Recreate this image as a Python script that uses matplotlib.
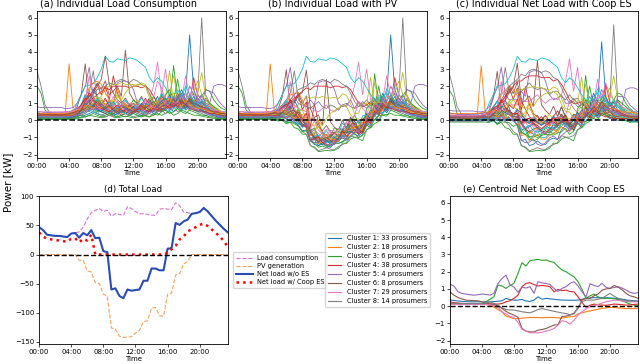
import matplotlib
matplotlib.use("Agg")
import matplotlib.pyplot as plt
import numpy as np

# half-hourly time axis, 00:00 .. 23:30
hours = np.arange(48) * 0.5
tick_hours = [0, 4, 8, 12, 16, 20]
tick_labels = ["00:00", "04:00", "08:00", "12:00", "16:00", "20:00"]

# (a) individual load of a subset of the prosumers [kW]
load_kw = [
    [0.3, 0.3, 0.25, 0.25, 0.2, 0.2, 0.2, 0.2, 0.2, 0.25, 0.3, 0.5, 0.8, 1.2, 0.9, 0.6,
     0.5, 0.4, 0.6, 0.4, 0.3, 0.5, 0.4, 0.3, 0.4, 0.6, 0.5, 0.8, 1.2, 0.7, 0.5, 0.6,
     0.8, 1.0, 1.4, 0.9, 1.1, 1.6, 5.0, 1.8, 1.2, 1.5, 1.0, 0.9, 0.7, 0.6, 0.5, 0.4],
    [0.35, 0.3, 0.3, 0.3, 0.3, 0.3, 0.3, 0.35, 3.3, 0.6, 0.35, 0.4, 0.5, 0.7, 1.0, 0.8,
     0.6, 0.5, 0.4, 0.5, 0.6, 0.4, 0.5, 0.7, 0.5, 0.4, 0.6, 0.9, 0.7, 0.5, 0.6, 0.8,
     1.2, 0.9, 0.7, 1.1, 1.5, 1.0, 0.8, 0.9, 1.3, 1.0, 0.8, 0.7, 0.6, 0.5, 0.5, 0.4],
    [2.0, 1.6, 0.6, 0.4, 0.35, 0.3, 0.3, 0.3, 0.3, 0.3, 0.35, 0.4, 0.6, 0.8, 0.7, 0.5,
     0.6, 0.8, 0.5, 0.4, 0.6, 0.5, 0.4, 0.5, 0.7, 0.5, 0.6, 0.9, 1.3, 0.8, 1.0, 1.5,
     1.2, 0.9, 3.2, 1.3, 1.6, 1.1, 0.9, 1.2, 1.0, 1.4, 1.8, 1.7, 1.2, 0.9, 0.7, 0.6],
    [0.2, 0.2, 0.15, 0.15, 0.15, 0.15, 0.15, 0.15, 0.15, 0.2, 0.3, 0.5, 0.9, 1.4, 1.8, 2.1,
     1.5, 2.0, 1.2, 2.6, 1.6, 1.1, 0.9, 0.8, 1.0, 0.7, 0.9, 1.3, 0.8, 0.6, 0.9, 1.4,
     1.1, 0.8, 1.0, 1.6, 1.2, 0.9, 1.1, 2.5, 1.5, 1.2, 0.9, 0.8, 0.6, 0.5, 0.4, 0.3],
    [0.8, 0.75, 0.75, 0.75, 0.75, 0.75, 0.75, 0.7, 0.7, 0.75, 1.0, 1.5, 2.0, 3.1, 1.4, 1.0,
     0.9, 0.8, 1.2, 0.9, 2.2, 2.3, 2.3, 2.2, 1.8, 1.0, 0.8, 0.9, 1.2, 0.7, 0.8, 1.1,
     0.9, 0.7, 1.3, 0.8, 0.9, 1.2, 2.0, 1.5, 1.1, 0.9, 1.3, 1.0, 2.0, 2.1, 2.1, 2.0],
    [0.3, 0.3, 0.25, 0.25, 0.25, 0.25, 0.3, 0.3, 0.3, 0.4, 0.8, 1.5, 3.3, 1.0, 1.6, 2.2,
     1.8, 2.3, 1.5, 1.7, 2.0, 1.4, 4.1, 1.6, 1.2, 1.0, 1.4, 0.9, 1.3, 0.8, 0.7, 1.0,
     0.9, 1.2, 0.8, 1.0, 1.3, 0.9, 0.8, 1.1, 0.9, 0.7, 0.8, 0.6, 0.5, 0.5, 0.4, 0.4],
    [0.45, 0.4, 0.4, 0.4, 0.4, 0.4, 0.4, 0.45, 0.5, 0.6, 0.7, 0.9, 0.8, 1.2, 0.9, 0.7,
     0.6, 0.5, 0.8, 0.6, 0.5, 0.7, 0.9, 0.6, 0.5, 0.7, 0.9, 0.8, 1.2, 2.0, 3.4, 1.5,
     3.0, 1.2, 0.9, 1.5, 1.2, 2.6, 1.4, 1.0, 1.2, 0.9, 0.8, 0.7, 0.6, 0.6, 0.5, 0.5],
    [2.9, 2.0, 0.9, 0.5, 0.4, 0.35, 0.35, 0.35, 0.35, 0.4, 0.6, 0.9, 1.2, 1.6, 2.9, 1.2,
     1.0, 0.8, 0.7, 0.9, 1.1, 0.8, 0.7, 0.9, 0.8, 0.6, 0.9, 1.0, 0.8, 0.7, 1.1, 0.9,
     1.2, 0.9, 1.0, 1.3, 0.9, 1.1, 1.5, 1.0, 1.4, 6.0, 1.5, 1.0, 0.8, 0.6, 0.5, 0.4],
    [0.3, 0.3, 0.3, 0.3, 0.3, 0.3, 0.3, 0.3, 0.3, 0.3, 0.4, 0.5, 0.7, 0.9, 1.0, 1.2,
     1.4, 1.8, 2.0, 2.1, 2.1, 2.2, 2.1, 2.1, 2.1, 2.0, 2.2, 2.1, 1.5, 0.9, 1.0, 1.6,
     1.3, 2.9, 1.0, 1.4, 1.2, 1.5, 1.3, 1.1, 1.6, 2.8, 1.4, 1.0, 0.8, 0.7, 0.5, 0.4],
    [0.4, 0.4, 0.35, 0.35, 0.35, 0.35, 0.35, 0.35, 0.4, 0.45, 1.0, 1.5, 2.0, 2.05, 2.15, 2.5,
     3.0, 3.75, 3.45, 3.4, 3.6, 3.55, 3.5, 3.65, 3.6, 3.5, 3.3, 3.1, 2.5, 2.2, 2.5, 2.3,
     1.9, 1.5, 1.2, 1.1, 1.4, 1.6, 1.2, 0.9, 0.8, 1.0, 0.9, 0.7, 0.6, 0.6, 0.5, 0.5],
    [0.25, 0.2, 0.2, 0.2, 0.2, 0.2, 0.2, 0.2, 0.25, 0.3, 0.5, 0.9, 1.5, 1.1, 1.8, 1.4,
     1.0, 0.7, 0.5, 0.6, 0.4, 0.5, 0.7, 0.5, 0.4, 0.6, 0.5, 0.4, 0.7, 0.9, 1.4, 0.8,
     1.1, 1.5, 0.9, 1.3, 1.8, 1.2, 1.0, 1.4, 0.9, 1.1, 0.8, 0.6, 0.5, 0.4, 0.3, 0.3],
    [0.2, 0.2, 0.2, 0.15, 0.15, 0.15, 0.15, 0.2, 0.2, 0.25, 0.4, 0.8, 1.3, 1.9, 2.2, 2.3,
     2.1, 1.6, 1.2, 0.9, 1.9, 1.1, 0.8, 0.6, 0.7, 0.5, 0.8, 0.6, 0.5, 0.7, 0.6, 0.9,
     0.7, 1.2, 0.9, 0.8, 1.1, 0.9, 1.3, 0.8, 0.7, 0.9, 0.6, 0.5, 0.4, 0.3, 0.3, 0.2],
    [0.15, 0.15, 0.15, 0.1, 0.1, 0.1, 0.1, 0.1, 0.15, 0.2, 0.3, 0.5, 0.7, 0.6, 0.9, 1.2,
     0.8, 0.6, 0.9, 1.1, 0.7, 0.5, 0.6, 0.8, 1.2, 0.9, 0.6, 0.8, 1.0, 1.4, 1.1, 0.9,
     1.5, 1.8, 1.2, 2.4, 1.0, 0.8, 1.4, 1.1, 0.9, 0.7, 1.2, 1.0, 0.8, 0.6, 0.4, 0.3],
    [0.3, 0.3, 0.3, 0.3, 0.3, 0.3, 0.3, 0.3, 0.3, 0.35, 0.5, 0.7, 0.9, 1.1, 1.3, 1.5,
     1.7, 1.9, 1.8, 2.0, 2.0, 2.0, 2.0, 1.9, 2.0, 2.0, 1.9, 2.0, 1.8, 1.4, 1.0, 0.8,
     0.9, 1.1, 0.8, 1.0, 0.7, 0.9, 1.2, 0.8, 0.7, 0.6, 0.8, 0.6, 0.5, 0.4, 0.35, 0.3],
    [0.5, 0.5, 0.45, 0.45, 0.45, 0.45, 0.45, 0.5, 0.5, 0.55, 0.7, 0.9, 1.2, 0.8, 1.0, 0.7,
     0.6, 0.8, 0.5, 0.7, 0.6, 0.9, 0.7, 0.5, 0.6, 0.8, 0.6, 0.5, 0.7, 0.9, 0.6, 0.8,
     1.0, 0.7, 1.3, 0.9, 1.1, 0.8, 1.2, 1.6, 1.3, 1.0, 1.8, 1.7, 1.6, 1.2, 0.9, 0.7],
    [0.35, 0.35, 0.3, 0.3, 0.3, 0.3, 0.3, 0.3, 0.35, 0.4, 0.6, 0.9, 1.2, 1.4, 1.6, 2.0,
     2.4, 3.75, 2.1, 1.6, 1.2, 1.0, 1.3, 0.9, 0.8, 1.0, 0.7, 0.9, 1.1, 0.8, 0.7, 1.0,
     0.8, 1.2, 1.0, 0.9, 1.3, 0.8, 1.1, 0.9, 0.7, 0.8, 0.6, 0.5, 0.5, 0.4, 0.4, 0.35],
    [0.3, 0.3, 0.3, 0.3, 0.25, 0.25, 0.25, 0.3, 0.3, 0.35, 0.5, 0.8, 1.1, 2.6, 1.3, 0.9,
     0.8, 1.2, 0.9, 1.4, 1.0, 0.8, 1.1, 0.9, 0.7, 1.0, 0.8, 1.2, 0.9, 1.3, 2.3, 1.9,
     1.2, 1.0, 1.4, 0.9, 1.1, 1.6, 1.3, 2.2, 1.5, 1.2, 1.0, 0.8, 0.7, 0.6, 0.5, 0.4],
    [0.25, 0.25, 0.2, 0.2, 0.2, 0.2, 0.2, 0.25, 0.25, 0.3, 0.4, 0.6, 0.9, 1.2, 1.5, 1.8,
     1.9, 2.0, 2.2, 2.1, 2.3, 2.4, 2.3, 2.2, 2.4, 2.3, 2.1, 2.0, 1.6, 1.1, 0.8, 0.9,
     0.7, 0.9, 1.2, 0.8, 1.0, 0.9, 0.7, 1.1, 0.8, 0.6, 0.7, 0.6, 0.5, 0.4, 0.3, 0.3],
    [0.2, 0.2, 0.2, 0.2, 0.15, 0.15, 0.15, 0.2, 0.2, 0.25, 0.35, 0.5, 0.7, 0.9, 0.8, 1.1,
     1.3, 0.9, 1.2, 1.0, 1.4, 1.2, 1.6, 1.9, 2.0, 2.1, 2.1, 2.0, 1.3, 1.0, 1.2, 0.9,
     1.1, 1.6, 2.6, 1.4, 1.2, 1.0, 1.3, 1.7, 2.3, 1.5, 1.2, 0.9, 0.7, 0.6, 0.5, 0.4],
    [0.1, 0.1, 0.1, 0.1, 0.1, 0.1, 0.1, 0.1, 0.1, 0.15, 0.3, 0.8, 1.5, 1.0, 0.7, 1.3,
     0.9, 0.6, 0.8, 1.1, 0.6, 0.9, 1.2, 0.8, 0.7, 0.9, 1.3, 1.0, 0.8, 1.1, 0.9, 1.6,
     1.2, 0.9, 1.4, 1.8, 1.3, 2.0, 1.5, 1.1, 0.9, 1.2, 0.8, 0.6, 0.5, 0.4, 0.3, 0.2],
    [0.1, 0.1, 0.1, 0.1, 0.1, 0.1, 0.1, 0.1, 0.1, 0.1, 0.15, 0.2, 0.3, 0.4, 0.5, 0.4,
     0.3, 0.4, 0.5, 0.3, 0.4, 0.6, 0.4, 0.3, 0.5, 0.4, 0.3, 0.5, 0.6, 0.4, 0.5, 0.7,
     0.6, 0.8, 0.5, 0.7, 0.9, 0.6, 0.8, 0.7, 0.5, 0.6, 0.4, 0.3, 0.3, 0.2, 0.15, 0.1],
    [0.3, 0.3, 0.3, 0.25, 0.25, 0.25, 0.25, 0.25, 0.3, 0.3, 0.35, 0.5, 0.7, 0.6, 0.8, 0.9,
     0.7, 0.5, 0.6, 0.8, 0.5, 0.7, 0.9, 0.6, 0.5, 0.7, 0.6, 0.4, 0.6, 0.8, 1.0, 1.3,
     0.9, 0.7, 1.1, 0.8, 1.0, 1.2, 0.9, 0.8, 0.7, 0.6, 0.5, 0.5, 0.4, 0.4, 0.35, 0.3],
    [0.05, 0.05, 0.05, 0.05, 0.05, 0.05, 0.05, 0.05, 0.05, 0.05, 0.1, 0.15, 0.2, 0.3, 0.25, 0.2,
     0.15, 0.2, 0.3, 0.2, 0.15, 0.2, 0.25, 0.2, 0.15, 0.2, 0.3, 0.25, 0.2, 0.3, 0.4, 0.3,
     0.4, 0.5, 0.3, 0.4, 0.6, 0.5, 0.4, 0.3, 0.3, 0.25, 0.2, 0.15, 0.1, 0.1, 0.05, 0.05],
    [0.4, 0.4, 0.35, 0.35, 0.35, 0.35, 0.35, 0.35, 0.4, 0.45, 0.6, 0.9, 1.3, 1.0, 0.8, 1.1,
     0.9, 1.3, 0.8, 0.6, 0.7, 0.5, 0.6, 0.9, 0.6, 0.5, 0.7, 0.8, 0.6, 0.9, 0.7, 0.6,
     0.8, 1.0, 0.7, 1.2, 0.9, 0.7, 1.0, 0.8, 0.9, 0.7, 0.6, 0.6, 0.5, 0.5, 0.4, 0.4],
    [0.15, 0.15, 0.15, 0.15, 0.15, 0.15, 0.15, 0.15, 0.15, 0.2, 0.3, 0.4, 0.6, 0.5, 0.7, 0.6,
     0.5, 0.7, 0.9, 0.6, 0.8, 1.1, 0.7, 0.5, 0.4, 0.6, 0.5, 0.7, 0.9, 0.6, 0.5, 0.8,
     1.0, 1.4, 0.9, 0.7, 1.2, 0.8, 0.6, 0.9, 1.1, 0.8, 0.6, 0.4, 0.3, 0.25, 0.2, 0.15],
    [0.2, 0.2, 0.2, 0.2, 0.2, 0.2, 0.2, 0.2, 0.2, 0.2, 0.25, 0.3, 0.4, 0.6, 0.9, 0.7,
     0.5, 0.4, 0.3, 0.4, 0.5, 0.3, 0.4, 0.6, 0.8, 0.5, 0.4, 0.3, 0.5, 0.7, 0.6, 0.5,
     0.7, 0.9, 1.3, 0.8, 0.6, 0.9, 1.1, 0.7, 0.6, 0.5, 0.5, 0.4, 0.3, 0.3, 0.25, 0.2],
    [0.5, 0.5, 0.5, 0.5, 0.5, 0.5, 0.5, 0.5, 0.5, 0.55, 0.6, 0.8, 1.0, 1.3, 1.1, 0.9,
     0.8, 1.0, 0.7, 0.9, 0.8, 0.6, 0.7, 1.0, 0.9, 0.7, 0.8, 1.1, 0.9, 0.7, 0.9, 1.2,
     1.0, 0.8, 0.9, 1.1, 1.4, 1.0, 0.8, 0.9, 0.8, 0.7, 0.7, 0.6, 0.6, 0.55, 0.5, 0.5],
    [0.1, 0.1, 0.1, 0.1, 0.1, 0.1, 0.1, 0.1, 0.1, 0.15, 0.2, 0.4, 0.8, 1.1, 0.6, 0.4,
     0.3, 0.2, 0.3, 0.25, 0.2, 0.3, 0.4, 0.3, 0.2, 0.3, 0.2, 0.3, 0.4, 0.3, 0.5, 0.6,
     0.4, 0.6, 0.8, 0.5, 0.7, 1.0, 0.8, 0.6, 0.5, 0.4, 0.3, 0.2, 0.2, 0.15, 0.1, 0.1],
    [0.35, 0.3, 0.3, 0.3, 0.3, 0.3, 0.3, 0.3, 0.3, 0.35, 0.4, 0.6, 0.8, 0.7, 1.0, 1.4,
     1.1, 0.8, 0.9, 1.2, 1.5, 1.1, 0.8, 0.7, 0.9, 1.2, 0.8, 0.6, 0.7, 0.9, 1.1, 0.8,
     0.7, 1.0, 1.6, 1.2, 0.8, 1.1, 0.9, 0.7, 0.8, 0.6, 0.5, 0.5, 0.4, 0.4, 0.35, 0.35],
    [0.25, 0.25, 0.2, 0.2, 0.2, 0.2, 0.2, 0.2, 0.25, 0.3, 0.35, 0.5, 0.4, 0.6, 0.5, 0.4,
     0.6, 0.5, 0.4, 0.6, 0.8, 0.5, 0.4, 0.5, 0.7, 0.6, 0.5, 0.4, 0.6, 0.5, 0.7, 0.9,
     0.6, 0.5, 0.7, 0.9, 0.6, 0.8, 0.7, 1.0, 0.8, 0.6, 0.5, 0.4, 0.35, 0.3, 0.3, 0.25],
    [0.15, 0.15, 0.1, 0.1, 0.1, 0.1, 0.1, 0.15, 0.15, 0.2, 0.3, 0.6, 1.0, 0.7, 0.9, 0.6,
     0.5, 0.8, 1.1, 0.7, 0.6, 0.9, 0.7, 0.6, 0.8, 0.6, 1.0, 0.8, 0.6, 0.5, 0.8, 1.1,
     1.3, 0.9, 0.8, 1.4, 1.0, 0.7, 1.2, 0.9, 0.7, 0.6, 0.5, 0.4, 0.3, 0.2, 0.2, 0.15],
    [0.45, 0.4, 0.4, 0.4, 0.4, 0.4, 0.4, 0.4, 0.45, 0.5, 0.6, 0.7, 0.9, 0.8, 0.7, 0.9,
     1.2, 0.9, 0.7, 0.8, 0.6, 0.8, 1.0, 0.7, 0.6, 0.8, 0.7, 0.9, 0.8, 0.6, 0.7, 0.9,
     1.1, 1.3, 1.0, 0.9, 0.8, 1.2, 1.0, 0.8, 0.7, 0.7, 0.6, 0.5, 0.5, 0.45, 0.45, 0.4],
    [0.1, 0.1, 0.1, 0.1, 0.1, 0.1, 0.1, 0.1, 0.1, 0.1, 0.2, 0.3, 0.2, 0.3, 0.4, 0.3,
     0.2, 0.3, 0.4, 0.3, 0.2, 0.3, 0.2, 0.3, 0.4, 0.3, 0.2, 0.3, 0.2, 0.4, 0.3, 0.5,
     0.6, 0.4, 0.5, 0.7, 0.5, 0.4, 0.6, 0.5, 0.4, 0.3, 0.3, 0.2, 0.2, 0.1, 0.1, 0.1],
    [0.3, 0.3, 0.3, 0.3, 0.3, 0.3, 0.3, 0.3, 0.3, 0.3, 0.4, 0.6, 1.1, 1.6, 1.2, 0.8,
     0.7, 0.6, 0.5, 0.7, 0.9, 0.6, 0.5, 0.4, 0.5, 0.7, 0.9, 0.6, 0.5, 0.7, 0.6, 0.8,
     0.9, 0.7, 1.0, 0.8, 1.1, 0.9, 0.7, 0.6, 0.6, 0.5, 0.5, 0.4, 0.4, 0.35, 0.3, 0.3],
    [0.2, 0.2, 0.2, 0.2, 0.2, 0.2, 0.2, 0.2, 0.2, 0.25, 0.3, 0.4, 0.5, 0.7, 0.6, 0.8,
     1.0, 0.7, 0.6, 0.5, 0.7, 0.9, 0.6, 0.5, 0.6, 0.8, 0.7, 0.5, 0.4, 0.6, 0.9, 1.2,
     0.8, 0.6, 0.9, 1.2, 1.5, 1.1, 0.8, 0.7, 0.6, 0.5, 0.4, 0.35, 0.3, 0.25, 0.2, 0.2],
    [0.4, 0.35, 0.35, 0.35, 0.3, 0.3, 0.3, 0.35, 0.4, 0.45, 0.5, 0.6, 0.7, 0.9, 1.2, 1.0,
     0.8, 0.7, 0.9, 0.6, 0.5, 0.7, 0.8, 0.6, 0.5, 0.6, 0.8, 0.7, 0.9, 1.1, 0.8, 0.6,
     0.7, 0.9, 0.8, 1.0, 1.2, 0.9, 1.3, 1.0, 0.9, 0.8, 0.7, 0.6, 0.5, 0.45, 0.4, 0.4],
]

# installed PV size of each of those prosumers [kWp] (0 = no PV)
pv_size = [1.6, 1.8, 1.9, 1.8, 0.0, 1.7, 0.0, 0.0, 0.8, 0.0, 1.9, 1.9,
           1.7, 0.0, 1.8, 1.6, 1.6, 0.0, 1.5, 1.8, 1.9, 1.9, 2.0, 1.7,
           1.8, 1.6, 1.6, 2.0, 1.9, 1.7, 1.9, 1.8, 1.8, 1.9, 2.0, 1.8]

# battery schedule types under cooperative ES [kW], and which one each prosumer follows
es_profiles = [
    [0.0] * 48,
    [-0.1, -0.1, -0.1, -0.1, -0.1, -0.1, -0.1, -0.1, -0.1, -0.1, -0.1, -0.1, -0.1, 0.0, 0.2, 0.4,
     0.6, 0.8, 1.0, 1.0, 1.1, 1.1, 1.1, 1.0, 1.0, 0.9, 0.8, 0.7, 0.6, 0.5, 0.4, 0.3,
     0.1, 0.0, -0.1, -0.2, -0.3, -0.3, -0.4, -0.4, -0.4, -0.4, -0.4, -0.3, -0.3, -0.3, -0.2, -0.2],
    [-0.2, -0.2, -0.2, -0.2, -0.2, -0.2, -0.2, -0.2, -0.2, -0.2, -0.2, -0.15, -0.1, 0.0, 0.1, 0.2,
     0.3, 0.4, 0.5, 0.5, 0.6, 0.6, 0.6, 0.6, 0.5, 0.5, 0.4, 0.4, 0.3, 0.3, 0.2, 0.2,
     0.1, 0.0, -0.1, -0.1, -0.2, -0.2, -0.2, -0.2, -0.2, -0.2, -0.2, -0.2, -0.2, -0.2, -0.2, -0.2],
]
es_type = [1, 1, 2, 1, 2, 1, 2, 1, 2, 0, 0, 1, 0, 2, 1, 2, 0, 2,
           1, 0, 1, 2, 0, 1, 2, 1, 2, 0, 1, 2, 1, 0, 2, 1, 0, 2]

# (d) totals over all 150 prosumers [kW]
total_load = [47, 42, 34, 33, 32, 32, 31, 30, 36, 37, 39, 47, 61, 72, 76, 79,
              74, 76, 66, 70, 69, 67, 82, 79, 74, 70, 70, 69, 68, 67, 78, 79,
              78, 77, 89, 84, 73, 72, 70, 71, 73, 80, 74, 66, 58, 51, 44, 38]
total_pv = [0, 0, 0, 0, 0, 0, 0, 0, 0, 0, -10, -10, -28, -30, -48, -50,
            -68, -72, -126, -128, -140, -142, -142, -141, -135, -130, -115, -114, -92, -91, -105, -106,
            -68, -66, -35, -33, -16, -12, 0, 0, 0, 0, 0, 0, 0, 0, 0, 0]
total_coop = [38, 31, 27, 26, 25, 24, 23, 22, 27, 28, 21, 27, 24, 34, 0, 0,
              0, 0, 0, 0, 0, 0, 0, 0, 0, 0, 0, 0, 0, 0, 0, 0,
              3, 9, 15, 26, 31, 40, 43, 47, 51, 53, 49, 43, 37, 31, 23, 13]

# (e) cluster centroids of net load with coop ES [kW]
cluster_names = ["Cluster 1: 33 prosumers", "Cluster 2: 18 prosumers", "Cluster 3: 6 prosumers",
                 "Cluster 4: 38 prosumers", "Cluster 5: 4 prosumers", "Cluster 6: 8 prosumers",
                 "Cluster 7: 29 prosumers", "Cluster 8: 14 prosumers"]
centroids = [
    [0.35, 0.33, 0.3, 0.28, 0.26, 0.25, 0.25, 0.25, 0.25, 0.25, 0.25, 0.26, 0.28, 0.31, 0.45, 0.38,
     0.35, 0.35, 0.39, 0.3, 0.27, 0.35, 0.54, 0.4, 0.45, 0.42, 0.4, 0.37, 0.35, 0.35, 0.34, 0.34,
     0.35, 0.4, 0.45, 0.47, 0.49, 0.49, 0.49, 0.48, 0.47, 0.46, 0.43, 0.4, 0.36, 0.33, 0.31, 0.29],
    [0.12, 0.11, 0.1, 0.1, 0.1, 0.1, 0.1, 0.1, 0.1, 0.1, 0.05, -0.05, -0.2, -0.33, -0.58, -0.65,
     -0.72, -0.72, -0.7, -0.68, -0.66, -0.66, -0.66, -0.68, -0.66, -0.66, -0.66, -0.68, -0.7, -0.66, -0.62, -0.6,
     -0.45, -0.38, -0.33, -0.28, -0.23, -0.18, -0.12, -0.1, -0.08, -0.08, -0.1, -0.12, -0.14, -0.14, -0.14, -0.14],
    [0.19, 0.16, 0.13, 0.11, 0.1, 0.1, 0.1, 0.1, 0.12, 0.25, 0.4, 0.54, 1.22, 1.17, 1.03, 1.2,
     1.32, 1.9, 2.52, 2.33, 2.64, 2.68, 2.72, 2.66, 2.68, 2.6, 2.54, 2.3, 2.1, 2.0, 1.84, 1.71,
     1.42, 0.97, 0.45, 0.6, 0.7, 0.54, 0.45, 0.45, 0.45, 0.43, 0.38, 0.31, 0.22, 0.12, 0.06, 0.04],
    [0.25, 0.2, 0.18, 0.16, 0.15, 0.15, 0.15, 0.15, 0.15, 0.14, 0.13, 0.12, 0.12, 0.15, 0.25, 0.31,
     0.45, 0.64, 1.13, 1.32, 1.36, 1.25, 1.17, 1.2, 1.17, 1.13, 0.83, 0.97, 0.9, 0.93, 0.85, 0.83,
     0.54, 0.2, -0.06, 0.05, 0.12, 0.08, 0.06, 0.05, 0.08, 0.12, 0.1, 0.08, 0.06, 0.07, 0.1, 0.12],
    [1.28, 1.17, 0.83, 0.74, 0.7, 0.66, 0.64, 0.66, 0.7, 0.68, 0.64, 0.74, 1.32, 1.6, 1.8, 1.25,
     1.1, 0.8, 1.1, 1.05, 1.13, 0.74, 1.42, 1.35, 1.32, 1.25, 1.03, 0.85, 1.03, 1.13, 1.32, 1.42,
     1.17, 0.83, 0.54, 1.3, 1.2, 1.13, 1.32, 1.09, 1.03, 1.08, 1.13, 1.05, 0.93, 0.8, 0.74, 0.78],
    [0.83, 0.64, 0.5, 0.42, 0.35, 0.33, 0.32, 0.31, 0.25, 0.16, 0.12, 0.1, 0.0, -0.14, -0.3, -0.43,
     -0.52, -0.65, -1.3, -1.45, -1.5, -1.5, -1.4, -1.36, -1.3, -1.2, -1.1, -1.08, -0.6, -0.58, -0.52, -0.4,
     -0.14, 0.35, 0.45, 0.45, 0.6, 0.7, 0.93, 1.0, 1.03, 1.2, 1.1, 0.95, 0.74, 0.6, 0.54, 0.45],
    [0.12, 0.11, 0.1, 0.1, 0.1, 0.1, 0.1, 0.1, 0.1, 0.1, 0.08, 0.02, -0.08, -0.33, -0.45, -0.6,
     -0.66, -0.95, -1.35, -1.45, -1.55, -1.55, -1.55, -1.52, -1.45, -1.4, -1.3, -1.1, -0.85, -0.9, -1.05, -0.82,
     -0.52, -0.33, -0.15, -0.04, 0.02, 0.1, 0.18, 0.25, 0.3, 0.35, 0.33, 0.3, 0.28, 0.25, 0.25, 0.25],
    [0.19, 0.17, 0.16, 0.15, 0.15, 0.15, 0.15, 0.15, 0.15, 0.18, 0.25, 0.15, 0.05, -0.1, -0.2, -0.22,
     -0.23, -0.28, -0.33, -0.36, -0.39, -0.3, -0.2, -0.14, -0.2, -0.25, -0.3, -0.35, -0.4, -0.43, -0.5, -0.45,
     -0.04, 0.25, 0.35, 0.35, 0.35, 0.4, 0.45, 0.6, 0.74, 0.58, 0.45, 0.38, 0.31, 0.3, 0.29, 0.29],
]

FS_TICK = 5


def style_axes(ax, title, title_size, title_x=0.5):
    ax.set_title(title, fontsize=title_size, pad=3, x=title_x)
    ax.set_xlim(0, 23.5)
    ax.set_xticks(tick_hours)
    ax.set_xticklabels(tick_labels)
    ax.set_xlabel("Time", fontsize=FS_TICK, labelpad=1)
    ax.tick_params(labelsize=FS_TICK, length=2, width=0.5, pad=1.5)
    for s in ax.spines.values():
        s.set_linewidth(0.6)


fig = plt.figure(figsize=(6.4, 3.64), dpi=100)

load = np.array(load_kw)
# PV output per kWp follows the shape of the total PV generation
pv_unit = np.array(total_pv) / min(total_pv)
pv = np.array(pv_size)[:, None] * pv_unit[None, :]
net_pv = load - pv
net_es = net_pv + np.array(es_profiles)[es_type]

top = [(0.0578, "(a) Individual Load Consumption", load, 0.43),
       (0.372, "(b) Individual Load with PV", net_pv, 0.5),
       (0.7016, "(c) Individual Net Load with Coop ES", net_es, 0.5)]
for left, title, lines, tx in top:
    ax = fig.add_axes([left, 0.566, 0.295, 0.404])
    for row in lines:
        ax.plot(hours, row, lw=0.6)
    ax.axhline(0, color="k", ls="--", lw=1.1, zorder=5)
    ax.set_ylim(-2.2, 6.4)
    ax.set_yticks(range(-2, 7))
    style_axes(ax, title, 6.9, tx)

# (d) totals
ax = fig.add_axes([0.061, 0.055, 0.295, 0.4066])
net_total = np.array(total_load) + np.array(total_pv)
ax.plot(hours, total_load, "--", color="orchid", lw=0.8, label="Load consumption")
ax.plot(hours, total_pv, "--", color="sandybrown", lw=0.8, label="PV generation")
ax.plot(hours, net_total, "-", color="#2a4db5", lw=1.5, label="Net load w/o ES")
ax.plot(hours, total_coop, ":", color="red", lw=1.8, label="Net load w/ Coop ES")
ax.axhline(0, color="k", ls="--", lw=1.0, zorder=5)
ax.set_yticks([-150, -100, -50, 0, 50, 100])
style_axes(ax, "(d) Total Load", 6.1)
ax.legend(loc="center left", bbox_to_anchor=(1.01, 0.5), fontsize=4.8,
          handlelength=2.6, labelspacing=0.3, borderpad=0.4, handletextpad=0.6)

# (e) centroids
ax = fig.add_axes([0.703, 0.055, 0.294, 0.4066])
for name, row in zip(cluster_names, centroids):
    ax.plot(hours, row, lw=0.8, label=name)
ax.axhline(0, color="k", ls="--", lw=1.0, zorder=5)
ax.set_ylim(-2.2, 6.4)
ax.set_yticks(range(-2, 7))
style_axes(ax, "(e) Centroid Net Load with Coop ES", 6.6)
leg = ax.legend(loc="center right", bbox_to_anchor=(-0.09, 0.5), fontsize=4.8,
                handlelength=2.0, labelspacing=0.45, borderpad=0.4, handletextpad=0.8)
leg.set_zorder(10)

fig.text(0.012, 0.5, "Power [kW]", rotation=90, va="center", ha="center", fontsize=7.5)

fig.savefig("out.png", dpi=100)
